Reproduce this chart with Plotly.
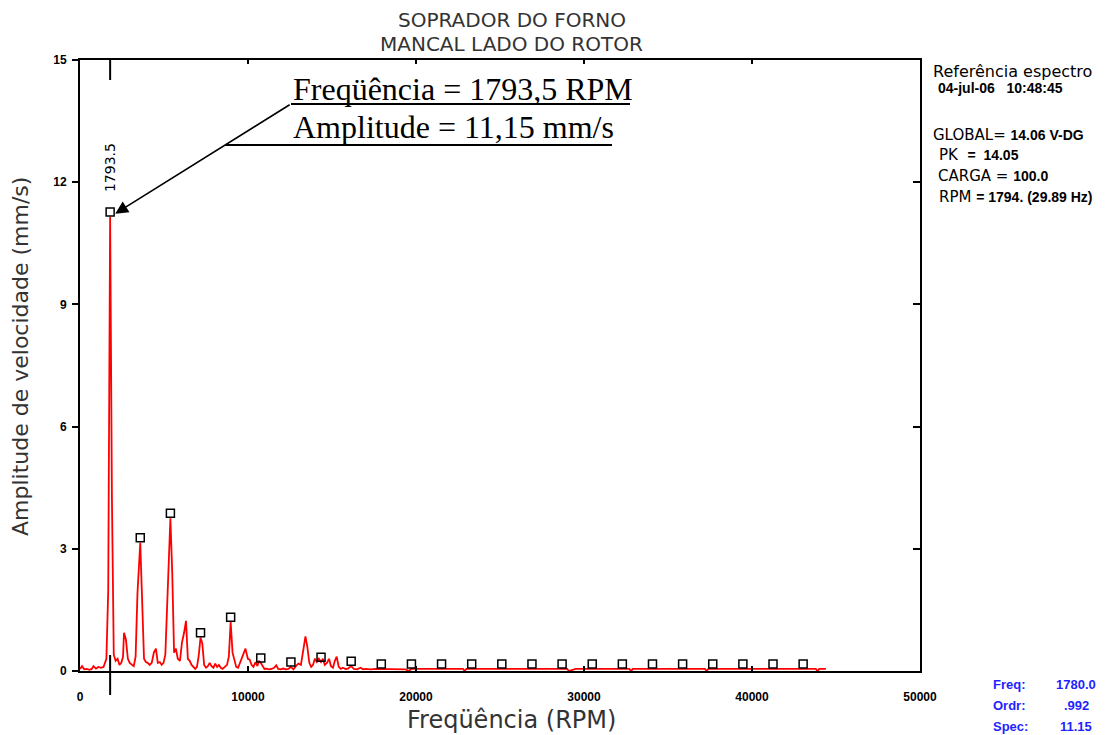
import plotly.graph_objects as go

# ---------------- data ----------------
spec_rpm = [
    0, 120, 250, 400, 560, 700, 800, 950, 1100, 1250,
    1400, 1570, 1680, 1793.5, 1900, 2010, 2120, 2240, 2350, 2460,
    2560, 2620, 2730, 2850, 2960, 3080, 3200, 3310, 3420, 3587,
    3700, 3810, 3920, 4030, 4150, 4270, 4400, 4520, 4630, 4750,
    4860, 4970, 5080, 5200, 5380.5, 5490, 5600, 5710, 5820, 5950,
    6070, 6200, 6310, 6420, 6530, 6640, 6750, 6860, 6960, 7060,
    7174, 7280, 7390, 7500, 7610, 7720, 7830, 7940, 8050, 8160,
    8270, 8380, 8490, 8600, 8750, 8860, 8967.5, 9080, 9190, 9300,
    9410, 9520, 9640, 9760, 9850, 9990, 10100, 10210, 10320, 10450,
    10560, 10650, 10761, 10870, 10980, 11100, 11250, 11400, 11550, 11680,
    11800, 11950, 12100, 12250, 12400, 12554.5, 12700, 12850, 13000, 13150,
    13300, 13420, 13530, 13650, 13760, 13870, 13980, 14100, 14220, 14348,
    14460, 14570, 14700, 14820, 14940, 15060, 15170, 15280, 15400, 15520,
    15650, 15800, 15950, 16141.5, 16300, 16500, 16700, 16850, 17000, 17300,
    17600, 17935, 18200, 18600, 19000, 19400, 19560, 19728.5, 20000, 20500,
    21000, 21522, 22000, 22800, 22900, 23000, 23315.5, 24000, 25109, 26000,
    26902.5, 28000, 28696, 29000, 29100, 29500, 30489.5, 31500, 32283, 32700,
    32800, 32900, 34076.5, 35000, 35870, 37200, 37300, 37400, 37663.5, 39457,
    41250.5, 43044, 43800, 43900, 44000, 44400,
]
spec_amp = [
    0.05, 0.12, 0.04, 0.05, 0.03, 0.05, 0.12, 0.06, 0.10, 0.08,
    0.10, 0.30, 1.97, 11.15, 4.25, 0.40, 0.25, 0.30, 0.15, 0.20,
    0.35, 0.94, 0.78, 0.30, 0.20, 0.15, 0.12, 0.35, 1.90, 3.15,
    1.80, 0.30, 0.22, 0.20, 0.15, 0.20, 0.46, 0.55, 0.20, 0.22,
    0.15, 0.20, 0.40, 1.65, 3.75, 2.42, 0.45, 0.55, 0.30, 0.25,
    0.70, 0.95, 1.23, 0.30, 0.25, 0.15, 0.10, 0.05, 0.10, 0.35,
    0.82, 0.68, 0.15, 0.08, 0.12, 0.20, 0.12, 0.08, 0.18, 0.10,
    0.15, 0.08, 0.05, 0.10, 0.15, 0.35, 1.20, 0.45, 0.25, 0.10,
    0.08, 0.20, 0.30, 0.45, 0.55, 0.30, 0.28, 0.15, 0.10, 0.22,
    0.12, 0.25, 0.20, 0.12, 0.05, 0.06, 0.04, 0.05, 0.08, 0.14,
    0.05, 0.04, 0.06, 0.04, 0.05, 0.10, 0.04, 0.12, 0.18, 0.15,
    0.50, 0.85, 0.60, 0.20, 0.10, 0.15, 0.30, 0.22, 0.30, 0.22,
    0.30, 0.15, 0.20, 0.30, 0.12, 0.08, 0.25, 0.35, 0.10, 0.05,
    0.08, 0.05, 0.06, 0.12, 0.05, 0.04, 0.08, 0.04, 0.05, 0.04,
    0.05, 0.05, 0.04, 0.05, 0.05, 0.04, 0.00, 0.05, 0.05, 0.05,
    0.05, 0.05, 0.05, 0.05, 0.00, 0.05, 0.05, 0.05, 0.05, 0.05,
    0.05, 0.05, 0.05, 0.05, 0.00, 0.05, 0.05, 0.05, 0.05, 0.05,
    0.00, 0.05, 0.05, 0.05, 0.05, 0.05, 0.00, 0.05, 0.05, 0.05,
    0.05, 0.05, 0.05, 0.00, 0.05, 0.05,
]

harmonic_rpm = [1793.5, 3587, 5380.5, 7174, 8967.5, 10761, 12554.5, 14348,
                16141.5, 17935, 19728.5, 21522, 23315.5, 25109, 26902.5, 28696,
                30489.5, 32283, 34076.5, 35870, 37663.5, 39457, 41250.5, 43044]
harmonic_amp = [11.15, 3.15, 3.75, 0.82, 1.20, 0.20, 0.10, 0.22,
                0.12, 0.05, 0.05, 0.05, 0.05, 0.05, 0.05, 0.05,
                0.05, 0.05, 0.05, 0.05, 0.05, 0.05, 0.05, 0.05]

cursor_rpm = 1793.5
cursor_amp = 11.15

x_ticks = [0, 10000, 20000, 30000, 40000, 50000]
x_ticktext = ["0", "10000", "20000", "30000", "40000", "50000"]
y_ticks = [0, 3, 6, 9, 12, 15]
y_ticktext = ["0", "3", "6", "9", "12", "15"]

title_lines = ["SOPRADOR DO FORNO", "MANCAL LADO DO ROTOR"]
x_title = "Freqüência (RPM)"
y_title = "Amplitude de velocidade (mm/s)"
callout_lines = ["Freqüência = 1793,5 RPM", "Amplitude = 11,15 mm/s"]

# ---------------- layout geometry (page pixels) ----------------
W, H = 1113, 735
L, R, T, B = 80, 920, 60, 671


def px(xp):
    return (xp - L) / (R - L)


def py(yp):
    return (B - yp) / (B - T)


SMALL = "Liberation Sans Narrow, Arial Narrow, Liberation Sans, Arial"
BOLDSM = "Liberation Sans, Arial"
PIX = "DejaVu Sans, Verdana, sans-serif"

fig = go.Figure()

fig.add_trace(go.Scatter(
    x=spec_rpm, y=spec_amp, mode="lines",
    line=dict(color="#ff0000", width=1.8),
    hoverinfo="skip", showlegend=False,
))

fig.add_trace(go.Scatter(
    x=harmonic_rpm, y=[a + 0.12 for a in harmonic_amp], mode="markers",
    marker=dict(symbol="square-open", size=8, color="black",
                line=dict(color="black", width=1.5)),
    hoverinfo="skip", showlegend=False,
))

# invisible trace for the mirrored (top / right) axes
fig.add_trace(go.Scatter(x=[0], y=[0], xaxis="x2", yaxis="y2", mode="markers",
                         marker=dict(opacity=0), hoverinfo="skip", showlegend=False))

axis_font = dict(family=SMALL, size=12, color="black", weight="bold")

fig.update_layout(
    width=W, height=H,
    margin=dict(l=L, r=W - R, t=T, b=H - B, pad=0),
    paper_bgcolor="white", plot_bgcolor="white",
    showlegend=False,
    xaxis=dict(range=[0, 50000], tickvals=x_ticks, ticktext=x_ticktext,
               ticks="inside", ticklen=5, tickwidth=1.5, tickcolor="black",
               showline=True, linecolor="black", linewidth=2,
               showgrid=False, zeroline=False, tickfont=axis_font,
               ticklabelstandoff=14),
    yaxis=dict(range=[0, 15], tickvals=y_ticks, ticktext=y_ticktext,
               ticks="outside", ticklen=6, tickwidth=1.5, tickcolor="black",
               showline=True, linecolor="black", linewidth=2,
               showgrid=False, zeroline=False, tickfont=axis_font,
               ticklabelstandoff=3),
    xaxis2=dict(range=[0, 50000], overlaying="x", side="top", tickvals=x_ticks,
                ticks="inside", ticklen=4, tickwidth=1.5, tickcolor="black",
                showticklabels=False, showline=True, linecolor="black",
                linewidth=2, showgrid=False, zeroline=False),
    yaxis2=dict(range=[0, 15], overlaying="y", side="right", tickvals=y_ticks,
                ticks="inside", ticklen=7, tickwidth=1.5, tickcolor="black",
                showticklabels=False, showline=True, linecolor="black",
                linewidth=2, showgrid=False, zeroline=False),
)

ann = []


def txt(xp, yp, text, font, xanchor="center", yanchor="middle", **kw):
    ann.append(dict(x=px(xp), y=py(yp), xref="paper", yref="paper", text=text,
                    xanchor=xanchor, yanchor=yanchor, showarrow=False, font=font, **kw))


# titles
txt(512, 20, title_lines[0], dict(family=PIX, size=20, color="#333333"))
txt(512, 44, title_lines[1], dict(family=PIX, size=20, color="#333333"))
# axis titles
txt(512, 720, x_title, dict(family=PIX, size=24, color="#333333"))
txt(20, 357, y_title, dict(family=PIX, size=22, color="#333333"), textangle=-90)

# callout text
SERIF = "Liberation Serif, Times New Roman, serif"
txt(291, 109, callout_lines[0], dict(family=SERIF, size=32, color="black"),
    xanchor="left", yanchor="bottom")
txt(291, 147, callout_lines[1], dict(family=SERIF, size=32, color="black"),
    xanchor="left", yanchor="bottom")
# arrow to the peak
ann.append(dict(x=cursor_rpm, y=cursor_amp, xref="x", yref="y", text="",
                showarrow=True, axref="pixel", ayref="pixel", ax=181, ay=-113,
                arrowhead=2, arrowsize=1.6, arrowwidth=1.6, arrowcolor="black",
                standoff=6))
# cursor label
ann.append(dict(x=cursor_rpm, y=cursor_amp + 1.2, xref="x", yref="y", text="1793.5",
                textangle=-90, showarrow=False,
                font=dict(family=PIX, size=14, color="black")))

# right-side info block
big = dict(family=PIX, size=15, color="black")
sm = "<span style='font-family:Liberation Sans, Arial; font-size:14px; font-weight:bold'>"
txt(931, 72, "<span style='font-size:16px'>Referência espectro</span>", big, xanchor="left")
txt(936, 88, sm + "04-jul-06&nbsp;&nbsp;&nbsp;10:48:45</span>", big, xanchor="left")
txt(931, 135, "GLOBAL= " + sm + "14.06 V-DG</span>", big, xanchor="left")
txt(937, 155, "PK&nbsp; " + sm + "=&nbsp;&nbsp;14.05</span>", big, xanchor="left")
txt(936, 176, "CARGA = " + sm + "100.0</span>", big, xanchor="left")
txt(937, 197, "RPM " + sm + "= 1794. (29.89 Hz)</span>", big, xanchor="left")

blue = "#1f1fff"
bsty = dict(family=BOLDSM, size=13, color=blue, weight="bold")
for yp, lab, val in [(684, "Freq:", "1780.0"), (705, "Ordr:", ".992"), (726, "Spec:", "11.15")]:
    txt(991, yp, lab, bsty, xanchor="left")
    txt(1076, yp, val, bsty, xanchor="center")

fig.update_layout(annotations=ann)

# underlines of the callout and cursor ticks
shapes = [
    dict(type="line", xref="paper", yref="paper", x0=px(291), x1=px(630),
         y0=py(104), y1=py(104), line=dict(color="black", width=2)),
    dict(type="line", xref="paper", yref="paper", x0=px(225), x1=px(612),
         y0=py(145), y1=py(145), line=dict(color="black", width=2)),
    dict(type="line", xref="x", yref="paper", x0=cursor_rpm, x1=cursor_rpm,
         y0=1, y1=py(80), line=dict(color="black", width=2)),
    dict(type="line", xref="x", yref="paper", x0=cursor_rpm, x1=cursor_rpm,
         y0=py(655), y1=py(695), line=dict(color="black", width=2)),
]
fig.update_layout(shapes=shapes)

fig.write_html("out.html", config={"displayModeBar": False},
               post_script="document.body.style.margin='0';")
